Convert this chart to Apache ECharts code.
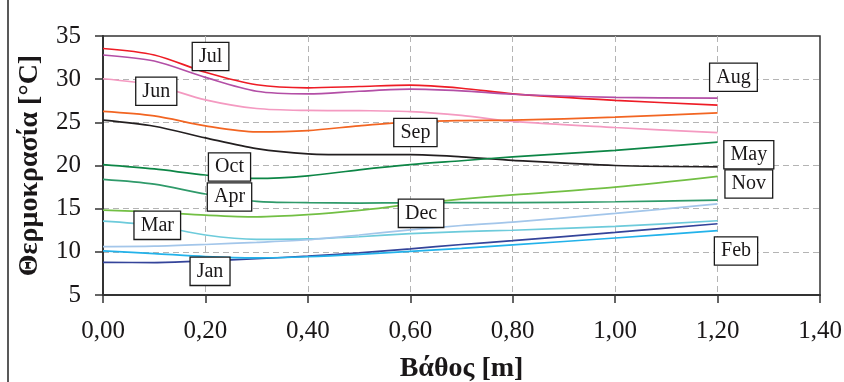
<!DOCTYPE html>
<html>
<head>
<meta charset="utf-8">
<script src="https://cdn.jsdelivr.net/npm/echarts@6/dist/echarts.min.js"></script>
<style>
  html, body { margin: 0; padding: 0; background: #fff; }
  #chart { width: 844px; height: 382px; }
</style>
</head>
<body>
<div id="chart"></div>
<script>
// Soil temperature profiles by month: depth (m) vs temperature (°C)
const depths = [0, 0.1, 0.2, 0.3, 0.4, 0.5, 0.6, 0.7, 0.8, 1.0, 1.2];

const jan = [8.78, 8.76, 8.95, 9.2, 9.5, 9.88, 10.35, 10.85, 11.3, 12.25, 13.25];
const feb = [10.12, 9.8, 9.45, 9.3, 9.43, 9.7, 10.05, 10.4, 10.8, 11.6, 12.45];
const mar = [13.55, 13.05, 11.95, 11.45, 11.5, 11.75, 12.1, 12.35, 12.5, 12.95, 13.6];
const apr = [18.4, 17.85, 16.7, 15.85, 15.7, 15.65, 15.68, 15.7, 15.7, 15.8, 16.0];
const may = [25.25, 24.55, 23.2, 21.95, 21.35, 21.25, 21.25, 21.0, 20.6, 20.0, 19.85];
const jun = [30.05, 29.3, 27.6, 26.6, 26.38, 26.35, 26.25, 25.8, 25.1, 24.4, 23.8];
const jul = [33.55, 32.8, 30.8, 29.35, 29.0, 29.15, 29.3, 28.95, 28.3, 27.55, 27.0];
const aug = [32.8, 32.1, 30.2, 28.6, 28.3, 28.6, 28.85, 28.65, 28.25, 27.9, 27.8];
const sep = [26.27, 25.75, 24.6, 23.9, 24.05, 24.6, 25.05, 25.2, 25.25, 25.6, 26.1];
const oct = [20.1, 19.6, 18.9, 18.5, 18.8, 19.5, 20.1, 20.55, 21.0, 21.75, 22.7];
const nov = [14.83, 14.6, 14.25, 14.05, 14.3, 14.8, 15.5, 16.1, 16.6, 17.5, 18.75];
const dec = [10.6, 10.65, 10.85, 11.1, 11.4, 11.95, 12.55, 13.05, 13.45, 14.45, 15.55];

const monthNames = ['Jan', 'Feb', 'Mar', 'Apr', 'May', 'Jun', 'Jul', 'Aug', 'Sep', 'Oct', 'Nov', 'Dec'];
const monthValues = [jan, feb, mar, apr, may, jun, jul, aug, sep, oct, nov, dec];
const monthColors = ['#34449a', '#22b2ea', '#6dcbdb', '#2f9a6a', '#231f20', '#f49ac1',
                     '#ee1c25', '#b34fa6', '#f26522', '#0d8646', '#72bf44', '#a3c6ea'];

// Boxed month tags, anchored in data coordinates [depth, temperature]
const tagNames = ['Jul', 'Jun', 'Oct', 'Apr', 'Mar', 'Jan', 'Sep', 'Dec', 'Aug', 'May', 'Nov', 'Feb'];
const tagDepths = [0.21, 0.104, 0.247, 0.247, 0.106, 0.209, 0.610, 0.621, 1.231, 1.261, 1.261, 1.236];
const tagTemps = [32.63, 28.6, 19.83, 16.36, 13.07, 7.74, 23.82, 14.46, 30.22, 21.24, 17.86, 10.09];

const yTicks = { min: 5, max: 35, interval: 5 };
const xTicks = { min: 0, max: 1.4, interval: 0.2 };

const serif = '"Liberation Serif", "DejaVu Serif", serif';
const ink = '#1a1718';
const chart = echarts.init(document.getElementById('chart'), null, { renderer: 'canvas' });

const lineSeries = monthNames.map((name, i) => ({
  name: name,
  type: 'line',
  data: depths.map((d, k) => [d, monthValues[i][k]]),
  smooth: 0.3,
  showSymbol: false,
  lineStyle: { width: 1.7, color: monthColors[i] },
  itemStyle: { color: monthColors[i] },
  emphasis: { disabled: true },
  z: 3
}));

const tagSeries = {
  name: 'tags',
  type: 'scatter',
  symbol: 'circle',
  symbolSize: 0,
  itemStyle: { color: '#fff', opacity: 1 },
  data: tagNames.map((t, i) => ({ value: [tagDepths[i], tagTemps[i]], name: t })),
  label: {
    show: true,
    position: 'inside',
    formatter: p => p.name,
    fontFamily: serif,
    fontSize: 20,
    color: ink,
    opacity: 1,
    backgroundColor: '#fff',
    borderColor: '#1a1a1a',
    borderWidth: 1.3,
    padding: [3, 6, 2, 6],
    lineHeight: 22
  },
  emphasis: { disabled: true },
  z: 10,
  silent: true
};

chart.setOption({
  animation: false,
  backgroundColor: '#fff',
  grid: {
    left: 103, right: 24, top: 36, bottom: 87,
    outerBoundsMode: 'none',
    containLabel: false,
    show: true, borderColor: '#333', borderWidth: 1.5, backgroundColor: 'transparent'
  },
  xAxis: {
    type: 'value',
    min: xTicks.min, max: xTicks.max, interval: xTicks.interval,
    name: 'Βάθος [m]',
    nameLocation: 'middle',
    nameGap: 60,
    nameTextStyle: { fontFamily: serif, fontSize: 28, fontWeight: 'bold', color: ink },
    axisLine: { show: true, lineStyle: { color: '#333', width: 2 } },
    axisTick: { show: true, length: 8, inside: false, lineStyle: { color: '#333', width: 1.5 } },
    axisLabel: {
      margin: 24, fontFamily: serif, fontSize: 25, color: ink,
      formatter: v => v.toFixed(2).replace('.', ',')
    },
    splitLine: {
      show: true, showMinLine: false, showMaxLine: false,
      lineStyle: { color: '#b4b4b4', type: [6, 4], width: 1 }
    }
  },
  yAxis: {
    type: 'value',
    min: yTicks.min, max: yTicks.max, interval: yTicks.interval,
    name: 'Θερμοκρασία [°C]',
    nameLocation: 'middle',
    nameGap: 59,
    nameTextStyle: { fontFamily: serif, fontSize: 28, fontWeight: 'bold', color: ink },
    axisLine: { show: true, lineStyle: { color: '#333', width: 2 } },
    axisTick: { show: true, length: 8, inside: false, lineStyle: { color: '#333', width: 1.5 } },
    axisLabel: { margin: 22, fontFamily: serif, fontSize: 25, color: ink },
    splitLine: {
      show: true, showMinLine: false, showMaxLine: false,
      lineStyle: { color: '#b4b4b4', type: [6, 4], width: 1 }
    }
  },
  graphic: [{
    type: 'line',
    shape: { x1: 8, y1: 0, x2: 8, y2: 382 },
    style: { stroke: '#222', lineWidth: 1.5 },
    silent: true
  }],
  series: lineSeries.concat([tagSeries])
});
</script>
</body>
</html>
